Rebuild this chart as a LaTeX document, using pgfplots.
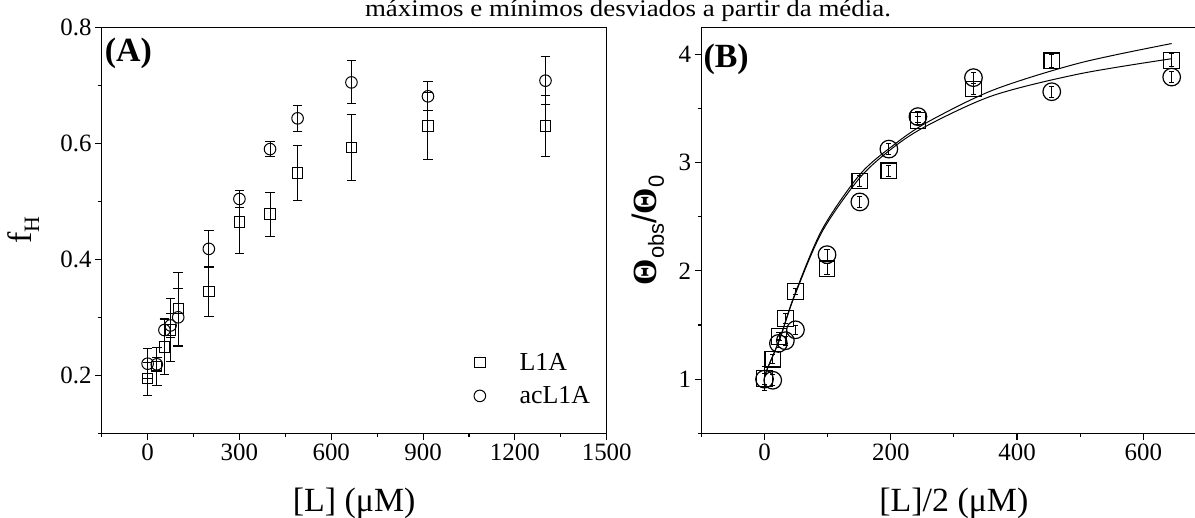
\documentclass[border=0pt]{standalone}
\usepackage{fontspec}
\setmainfont{Liberation Serif}
\newfontfamily\sansf{Liberation Sans}
\usepackage{pgfplots}
\usepackage{pgfplotstable}
\pgfplotsset{compat=1.18}

% Panel A data: x, y, error
\pgfplotstableread{
x y e
0 0.194 0.028
30 0.215 0.033
55 0.249 0.048
75 0.278 0.055
100 0.315 0.063
200 0.344 0.042
300 0.464 0.054
400 0.478 0.038
490 0.549 0.047
666 0.593 0.057
916 0.630 0.058
1300 0.630 0.052
}\ALsq
\pgfplotstableread{
x y e
0 0.220 0.026
30 0.219 0.011
55 0.278 0.020
75 0.286 0.020
100 0.300 0.050
200 0.418 0.031
300 0.504 0.015
400 0.590 0.013
490 0.643 0.023
666 0.705 0.037
916 0.681 0.025
1300 0.708 0.041
}\ALci
% Panel B data
\pgfplotstableread{
x y e
0 1.006 0.11
13 1.185 0.04
23 1.395 0.04
33 1.560 0.05
49 1.810 0.03
99 2.020 0.05
151 2.830 0.05
197 2.925 0.05
243 3.390 0.04
331 3.680 0.05
455 3.940 0.06
645 3.945 0.06
}\BLsq
\pgfplotstableread{
x y e
0 1.000 0.05
13 0.990 0.05
22 1.330 0.04
33 1.355 0.04
49 1.456 0.04
99 2.150 0.05
151 2.637 0.05
197 3.125 0.05
243 3.425 0.05
331 3.785 0.05
455 3.655 0.05
645 3.790 0.05
}\BLci

\pgfplotsset{
  common/.style={
    scale only axis, width=505bp, height=406bp,
    tick align=outside, tick pos=left,
    major tick length=6.7bp, minor tick length=3.5bp,
    every tick/.style={black, line width=1.1bp},
    axis line style={line width=1.3bp},
    tick label style={font=\fontsize{25}{30}\selectfont},
    /pgf/number format/assume math mode=true,
    /pgf/number format/1000 sep={},
    scaled ticks=false,
    label style={font=\fontsize{34}{40}\selectfont},
    clip=false,
  }
}

\begin{document}
\begin{tikzpicture}
\path[use as bounding box] (0bp,0bp) rectangle (1195bp,518bp);

\node[font=\fontsize{24}{29}\selectfont, anchor=base, xscale=1.125, inner sep=0] at (628bp,501.5bp) {máximos e mínimos desviados a partir da média.};

\begin{axis}[common,
  at={(101.7bp,84.7bp)}, anchor=south west,
  xmin=-150, xmax=1500, ymin=0.1, ymax=0.8,
  xtick={0,300,600,900,1200,1500},
  minor xtick={-150,150,450,750,1050,1350},
  ytick={0.2,0.4,0.6,0.8},
  minor ytick={0.1,0.3,0.5,0.7},
  yticklabel style={/pgf/number format/.cd, fixed, fixed zerofill, precision=1},
  xlabel={[L] (μM)},
  ylabel={f\raisebox{-0.22em}{\fontsize{22}{26}\selectfont H}},
  xlabel style={at={(axis description cs:0.5,-0.172)}, anchor=center},
  ylabel style={at={(axis description cs:-0.155,0.5)}, anchor=center},
  legend cell align=left,
  legend style={draw=none, fill=none, at={(axis description cs:0.731,0.208)}, anchor=north west,
    font=\fontsize{26}{31}\selectfont, row sep=11bp,
    /tikz/every odd column/.append style={column sep=32bp}},
]
\addplot[black, only marks, mark=square, mark size=5.2bp, mark options={line width=1bp},
  error bars/.cd, y dir=both, y explicit,
  error mark options={rotate=90, mark size=4.8bp, line width=1bp},
  error bar style={line width=1bp}]
  table[x=x, y=y, y error=e] {\ALsq};
\addlegendentry{L1A}
\addplot[black, only marks, mark=o, mark size=5.8bp, mark options={line width=1bp},
  error bars/.cd, y dir=both, y explicit,
  error mark options={rotate=90, mark size=4.8bp, line width=1bp},
  error bar style={line width=1bp}]
  table[x=x, y=y, y error=e] {\ALci};
\addlegendentry{acL1A}
\node[anchor=north west, inner sep=0, font=\fontsize{34}{40}\selectfont\bfseries] at (axis description cs:0.006,0.975) {(A)};
\end{axis}

\begin{axis}[common,
  at={(701.4bp,84.7bp)}, anchor=south west,
  xmin=-100, xmax=700, ymin=0.5, ymax=4.25,
  xtick={0,200,400,600},
  minor xtick={-100,100,300,500,700},
  ytick={1,2,3,4},
  minor ytick={0.5,1.5,2.5,3.5},
  xlabel={[L]/2 (μM)},
  ylabel={\textbf{Θ}\raisebox{-0.22em}{\sansf\fontsize{22}{26}\selectfont obs}{\sansf /}\textbf{Θ}\raisebox{-0.22em}{\sansf\fontsize{22}{26}\selectfont 0}},
  xlabel style={at={(axis description cs:0.5,-0.172)}, anchor=center},
  ylabel style={at={(axis description cs:-0.106,0.5)}, anchor=center},
]
\addplot[black, smooth, line width=1bp] coordinates {
(0,1.02) (4,1.09) (24,1.37) (47,1.77) (91,2.38) (151,2.89) (204,3.16) (257,3.37) (362,3.67) (499,3.92) (645,4.10)};
\addplot[black, smooth, line width=1bp] coordinates {
(0,1.02) (4,1.09) (24,1.37) (47,1.76) (91,2.36) (151,2.86) (204,3.14) (257,3.34) (362,3.62) (499,3.82) (645,3.96)};
\addplot[black, only marks, mark=square, mark size=7.8bp, mark options={line width=1.2bp},
  error bars/.cd, y dir=both, y explicit,
  error mark options={rotate=90, mark size=2.6bp, line width=1bp},
  error bar style={line width=1bp}]
  table[x=x, y=y, y error=e] {\BLsq};
\addplot[black, only marks, mark=o, mark size=8.8bp, mark options={line width=1.2bp},
  error bars/.cd, y dir=both, y explicit,
  error mark options={rotate=90, mark size=2.6bp, line width=1bp},
  error bar style={line width=1bp}]
  table[x=x, y=y, y error=e] {\BLci};
\node[anchor=north west, inner sep=0, font=\fontsize{34}{40}\selectfont\bfseries] at (axis description cs:0.004,0.96) {(B)};
\end{axis}
\end{tikzpicture}
\end{document}
